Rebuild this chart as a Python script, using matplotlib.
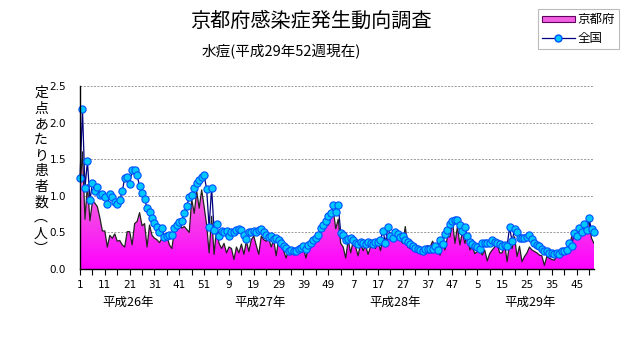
import numpy as np
import matplotlib
matplotlib.use("Agg")
import matplotlib.pyplot as plt
from matplotlib.colors import LinearSegmentedColormap
from matplotlib.patches import Patch
from matplotlib.lines import Line2D

plt.rcParams['font.family'] = ['Noto Sans CJK JP', 'DejaVu Sans']

# weekly values, 平成26年 week 1 .. 平成29年 week 52 (52 weeks per year)
kyoto = [
    1.10, 1.60, 0.68, 1.15, 0.66, 0.92, 0.90, 0.85, 0.70, 0.52,
    0.52, 0.30, 0.46, 0.42, 0.48, 0.38, 0.39, 0.33, 0.30, 0.51,
    0.51, 0.33, 0.62, 0.65, 0.77, 0.59, 0.62, 0.30, 0.60, 0.46,
    0.42, 0.40, 0.36, 0.42, 0.38, 0.45, 0.33, 0.28, 0.52, 0.60,
    0.64, 0.56, 0.58, 0.54, 0.50, 0.95, 0.76, 1.06, 0.83, 1.08,
    0.85, 0.60, 0.22, 0.72, 0.20, 0.55, 0.35, 0.28, 0.35, 0.22,
    0.30, 0.28, 0.13, 0.30, 0.22, 0.34, 0.20, 0.38, 0.24, 0.40,
    0.45, 0.32, 0.20, 0.45, 0.40, 0.38, 0.42, 0.30, 0.40, 0.18,
    0.40, 0.33, 0.25, 0.15, 0.26, 0.22, 0.24, 0.20, 0.26, 0.25,
    0.28, 0.15, 0.30, 0.34, 0.38, 0.42, 0.48, 0.55, 0.55, 0.62,
    0.60, 0.72, 0.80, 0.55, 0.68, 0.35, 0.30, 0.15, 0.40, 0.22,
    0.38, 0.30, 0.18, 0.35, 0.25, 0.32, 0.20, 0.30, 0.33, 0.28,
    0.38, 0.25, 0.42, 0.35, 0.45, 0.40, 0.38, 0.42, 0.48, 0.40,
    0.35, 0.58, 0.30, 0.28, 0.26, 0.30, 0.25, 0.28, 0.26, 0.30,
    0.32, 0.30, 0.38, 0.30, 0.25, 0.19, 0.35, 0.26, 0.44, 0.44,
    0.65, 0.35, 0.58, 0.33, 0.51, 0.35, 0.48, 0.26, 0.30, 0.21,
    0.24, 0.26, 0.19, 0.26, 0.11, 0.21, 0.26, 0.30, 0.35, 0.22,
    0.22, 0.35, 0.10, 0.35, 0.28, 0.44, 0.17, 0.31, 0.10, 0.17,
    0.22, 0.30, 0.26, 0.24, 0.22, 0.19, 0.18, 0.05, 0.17, 0.15,
    0.13, 0.12, 0.17, 0.19, 0.19, 0.24, 0.26, 0.30, 0.44, 0.46,
    0.51, 0.49, 0.58, 0.54, 0.62, 0.65, 0.42, 0.35,
]

national = [
    1.25, 2.18, 1.11, 1.47, 0.94, 1.17, 1.07, 1.12, 1.01, 1.03,
    0.98, 0.89, 1.02, 0.99, 0.92, 0.89, 0.94, 1.06, 1.24, 1.26,
    1.16, 1.35, 1.35, 1.28, 1.13, 1.04, 0.95, 0.84, 0.78, 0.69,
    0.63, 0.58, 0.50, 0.56, 0.44, 0.45, 0.47, 0.46, 0.56, 0.60,
    0.64, 0.66, 0.77, 0.86, 0.98, 1.01, 1.10, 1.18, 1.22, 1.26,
    1.28, 1.09, 0.57, 1.11, 0.53, 0.61, 0.45, 0.52, 0.51, 0.52,
    0.45, 0.51, 0.50, 0.53, 0.55, 0.53, 0.46, 0.41, 0.50, 0.51,
    0.52, 0.50, 0.53, 0.55, 0.50, 0.46, 0.44, 0.45, 0.41, 0.42,
    0.40, 0.35, 0.31, 0.29, 0.25, 0.26, 0.25, 0.25, 0.27, 0.29,
    0.31, 0.28, 0.33, 0.36, 0.40, 0.43, 0.46, 0.56, 0.60, 0.66,
    0.72, 0.76, 0.87, 0.78, 0.87, 0.49, 0.47, 0.40, 0.41, 0.42,
    0.40, 0.35, 0.34, 0.37, 0.35, 0.34, 0.37, 0.35, 0.34, 0.37,
    0.37, 0.40, 0.52, 0.36, 0.57, 0.45, 0.42, 0.50, 0.48, 0.44,
    0.45, 0.39, 0.37, 0.34, 0.31, 0.29, 0.28, 0.26, 0.25, 0.27,
    0.28, 0.27, 0.28, 0.31, 0.26, 0.39, 0.34, 0.48, 0.53, 0.61,
    0.65, 0.67, 0.67, 0.60, 0.52, 0.58, 0.45, 0.37, 0.34, 0.31,
    0.30, 0.28, 0.35, 0.36, 0.35, 0.36, 0.39, 0.37, 0.36, 0.34,
    0.31, 0.33, 0.31, 0.57, 0.38, 0.54, 0.50, 0.43, 0.42, 0.43,
    0.44, 0.46, 0.41, 0.36, 0.33, 0.31, 0.28, 0.25, 0.24, 0.22,
    0.22, 0.21, 0.22, 0.20, 0.25, 0.25, 0.26, 0.35, 0.31, 0.49,
    0.45, 0.56, 0.51, 0.62, 0.53, 0.69, 0.54, 0.50,
]

week_labels = ["1", "11", "21", "31", "41", "51", "9", "19", "29", "39", "49",
               "7", "17", "27", "37", "47", "5", "15", "25", "35", "45"]
years = ["平成26年", "平成27年", "平成28年", "平成29年"]
year_px = [128, 260, 395, 530]
ylabel = "定点あたり患者数︵人︶"

x = np.arange(len(kyoto))

fig = plt.figure(figsize=(6.31, 3.47), dpi=100)
ax = fig.add_axes([80/631, 1-269/347, 514/631, 183/347])

# pink area with a vertical gradient
poly = ax.fill_between(x, kyoto, 0, facecolor='none', edgecolor='none')
cmap = LinearSegmentedColormap.from_list("pk", ["#ff00ff", "#f450e4", "#f6a0ee"])
grad = np.linspace(0, 1, 256).reshape(-1, 1)
img = ax.imshow(grad, cmap=cmap, origin='lower', aspect='auto',
                extent=[0, len(x) - 1, 0, 1.7], zorder=1)
img.set_clip_path(poly.get_paths()[0], transform=ax.transData)
ax.plot(x, kyoto, color='#222222', lw=0.9, zorder=2)

ax.plot(x, national, color='#000080', lw=0.9, marker='o', ms=5.2,
        mfc='#00c8ff', mec='#0050ff', mew=0.8, zorder=3, clip_on=False)

ax.set_xlim(0, len(x) - 1)
ax.set_ylim(0, 2.5)
ax.set_yticks(np.arange(0, 2.51, 0.5))
ax.set_yticklabels(["%.1f" % v for v in np.arange(0, 2.51, 0.5)], fontsize=7.5,
                   family='DejaVu Sans')
ax.set_xticks(np.arange(0, len(x), 5), minor=True)
ax.set_xticks(np.arange(0, len(x), 10))
ax.set_xticklabels(week_labels, fontsize=7.5, family='DejaVu Sans')
ax.tick_params(axis='x', which='both', direction='out', length=4, width=0.8, pad=4)
ax.tick_params(axis='y', length=0, pad=10)
for v in [0.5, 1.0, 1.5, 2.0, 2.5]:
    ax.axhline(v, color='#999999', lw=0.7, ls=(0, (2, 1.5)), zorder=0)
for s in ['top', 'right']:
    ax.spines[s].set_visible(False)
for s in ['left', 'bottom']:
    ax.spines[s].set_color('black')
    ax.spines[s].set_linewidth(1.0)
    ax.spines[s].set_zorder(4)

# year labels
for yr, px in zip(years, year_px):
    fig.text(px/631, 1 - 302/347, yr, fontsize=9, ha='center', va='center')

# vertical y label
for k, ch in enumerate(ylabel):
    fig.text(41/631, 1 - (93 + k * 15.6)/347, ch, fontsize=10, ha='center', va='center')

fig.text(311/631, 1 - 21/347, "京都府感染症発生動向調査", fontsize=14.5, ha='center', va='center')
fig.text(281/631, 1 - 52/347, "水痘(平成29年52週現在)", fontsize=10.5, ha='center', va='center')

handles = [Patch(facecolor='#f060e0', edgecolor='#600060', lw=0.8),
           Line2D([], [], color='#000080', lw=0.9, marker='o', ms=5,
                  mfc='#00c8ff', mec='#0050ff')]
leg = fig.legend(handles, ["京都府", "全国"], loc='upper right',
                 bbox_to_anchor=(619/631, 1 - 9/347), fontsize=9, frameon=True,
                 fancybox=False, edgecolor='#aaaaaa', borderpad=0.35,
                 handlelength=2.6, handleheight=0.45, handletextpad=0.2,
                 labelspacing=0.45, borderaxespad=0)
leg.get_frame().set_linewidth(0.8)

fig.savefig("out.png", dpi=100)
